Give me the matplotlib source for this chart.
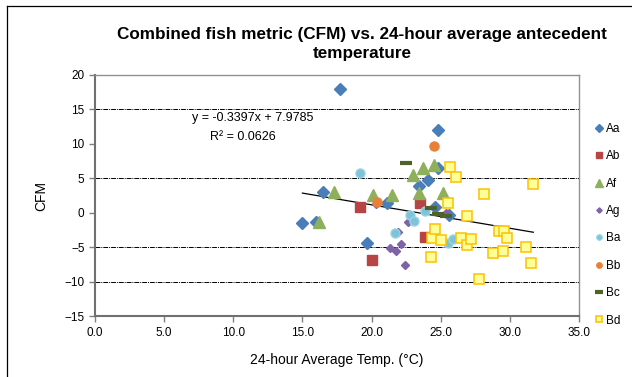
import numpy as np
import matplotlib
matplotlib.use("Agg")
import matplotlib.pyplot as plt
from matplotlib.lines import Line2D

plt.rcParams['font.family'] = ['Liberation Sans', 'DejaVu Sans']

# data (temp in degC, CFM)
aa_x = [15.0, 16.0, 16.5, 17.7, 19.7, 21.1, 23.4, 24.1, 24.6, 24.8, 24.8, 25.6]
aa_y = [-1.5, -1.3, 3.1, 18.0, -4.4, 1.4, 3.9, 4.8, 0.9, 6.5, 12.0, -0.3]
ab_x = [19.2, 20.0, 23.5, 23.9]
ab_y = [0.9, -6.8, 1.4, -3.5]
af_x = [16.2, 17.3, 20.1, 21.5, 23.0, 23.4, 23.7, 24.5, 25.2]
af_y = [-1.3, 3.0, 2.6, 2.6, 5.5, 2.9, 6.5, 7.0, 2.9]
ag_x = [20.3, 21.3, 21.8, 21.9, 22.1, 22.4, 22.6, 25.4]
ag_y = [1.3, -5.1, -5.5, -2.8, -4.5, -7.5, -1.3, 0.0]
ba_x = [19.2, 21.7, 22.8, 23.1, 23.9, 25.5, 25.9]
ba_y = [5.8, -2.9, -0.3, -1.2, 0.3, -4.4, -3.8]
bb_x = [20.4, 24.5]
bb_y = [1.6, 9.7]
bc_x = [22.5, 24.3, 24.8, 25.4]
bc_y = [7.2, 0.7, -0.1, -0.4]
bd_x = [24.3, 24.4, 24.6, 25.0, 25.5, 25.7, 26.1, 26.5, 26.9, 26.9, 27.2,
        27.8, 28.1, 28.8, 29.2, 29.6, 29.5, 29.8, 31.2, 31.5, 31.7]
bd_y = [-6.4, -3.6, -2.3, -3.9, 1.4, 6.7, 5.2, -3.6, -0.4, -4.6, -3.8,
        -9.6, 2.8, -5.8, -2.6, -2.6, -5.5, -3.6, -4.9, -7.3, 4.2]

slope, intercept = -0.3397, 7.9785
trend_x = [15.0, 31.7]
grid_levels = [15, 5, -5, -10]

fig = plt.figure(figsize=(6.32, 3.77), dpi=100)
ax = fig.add_axes([0.1503, 0.1605, 0.7658, 0.6406])

# chart area border (top and left only visible)
fig.add_artist(Line2D([7/632, 7/632], [0, 1 - 6/377], transform=fig.transFigure, color='black', lw=0.9))
fig.add_artist(Line2D([7/632, 1], [1 - 6/377, 1 - 6/377], transform=fig.transFigure, color='black', lw=0.9))

for g in grid_levels:
    ax.axhline(g, color='black', lw=0.7, linestyle=(0, (5, 1, 1, 1)), zorder=1)

ax.plot(aa_x, aa_y, linestyle='none', marker='D', ms=6.5, color='#4A7EBB', mec='#4A7EBB', label='Aa', zorder=3)
ax.plot(ab_x, ab_y, linestyle='none', marker='s', ms=6.5, color='#B84545', mec='#B84545', label='Ab', zorder=3)
ax.plot(af_x, af_y, linestyle='none', marker='^', ms=8.5, color='#8FB05A', mec='#8FB05A', label='Af', zorder=3)
ax.plot(ag_x, ag_y, linestyle='none', marker='D', ms=4.5, color='#7F62A8', mec='#7F62A8', label='Ag', zorder=3)
ax.plot(ba_x, ba_y, linestyle='none', marker='o', ms=6.5, color='#7EC4D8', mec='#9AD3E3', label='Ba', zorder=3)
ax.plot(bb_x, bb_y, linestyle='none', marker='o', ms=6.5, color='#E8803A', mec='#E8803A', label='Bb', zorder=3)
ax.plot(bc_x, bc_y, linestyle='none', marker='_', ms=9, mew=3, color='#4F6228', label='Bc', zorder=3)
ax.plot(bd_x, bd_y, linestyle='none', marker='s', ms=6.5, color='#FFFF99', mec='#FFC000', mew=1.1, label='Bd', zorder=3)

tx = np.array(trend_x)
ax.plot(tx, slope * tx + intercept, color='black', lw=0.9, zorder=2)
ax.text(7.0, 13.8, 'y = -0.3397x + 7.9785', fontsize=9, va='center', ha='left')
ax.text(8.3, 11.0, 'R² = 0.0626', fontsize=9, va='center', ha='left')

ax.set_xlim(0, 35)
ax.set_ylim(-15, 20)
ax.set_xticks(np.arange(0, 36, 5))
ax.set_xticklabels(['%.1f' % v for v in np.arange(0, 36, 5)])
ax.set_yticks(np.arange(-15, 21, 5))
ax.tick_params(axis='both', labelsize=8.5, direction='out', length=4, color='#808080', width=1)
for side in ['top', 'right']:
    ax.spines[side].set_color('#909090')
    ax.spines[side].set_linewidth(1)
for side in ['left', 'bottom']:
    ax.spines[side].set_color('#707070')
    ax.spines[side].set_linewidth(1.5)

ax.set_xlabel('24-hour Average Temp. (°C)', fontsize=10, labelpad=10)
ax.set_ylabel('CFM', fontsize=10, labelpad=12)
fig.text(0.573, 0.884, 'Combined fish metric (CFM) vs. 24-hour average antecedent\ntemperature',
         ha='center', va='center', fontsize=12.3, fontweight='bold', linespacing=1.35)

handles, labels = ax.get_legend_handles_labels()
leg = fig.legend(handles, labels, loc='upper left', bbox_to_anchor=(0.935, 0.686),
                 frameon=False, fontsize=8.5, labelspacing=1.3, handlelength=0.6,
                 handletextpad=0.3, borderaxespad=0, markerscale=0.6)

fig.savefig('out.png', dpi=100)
